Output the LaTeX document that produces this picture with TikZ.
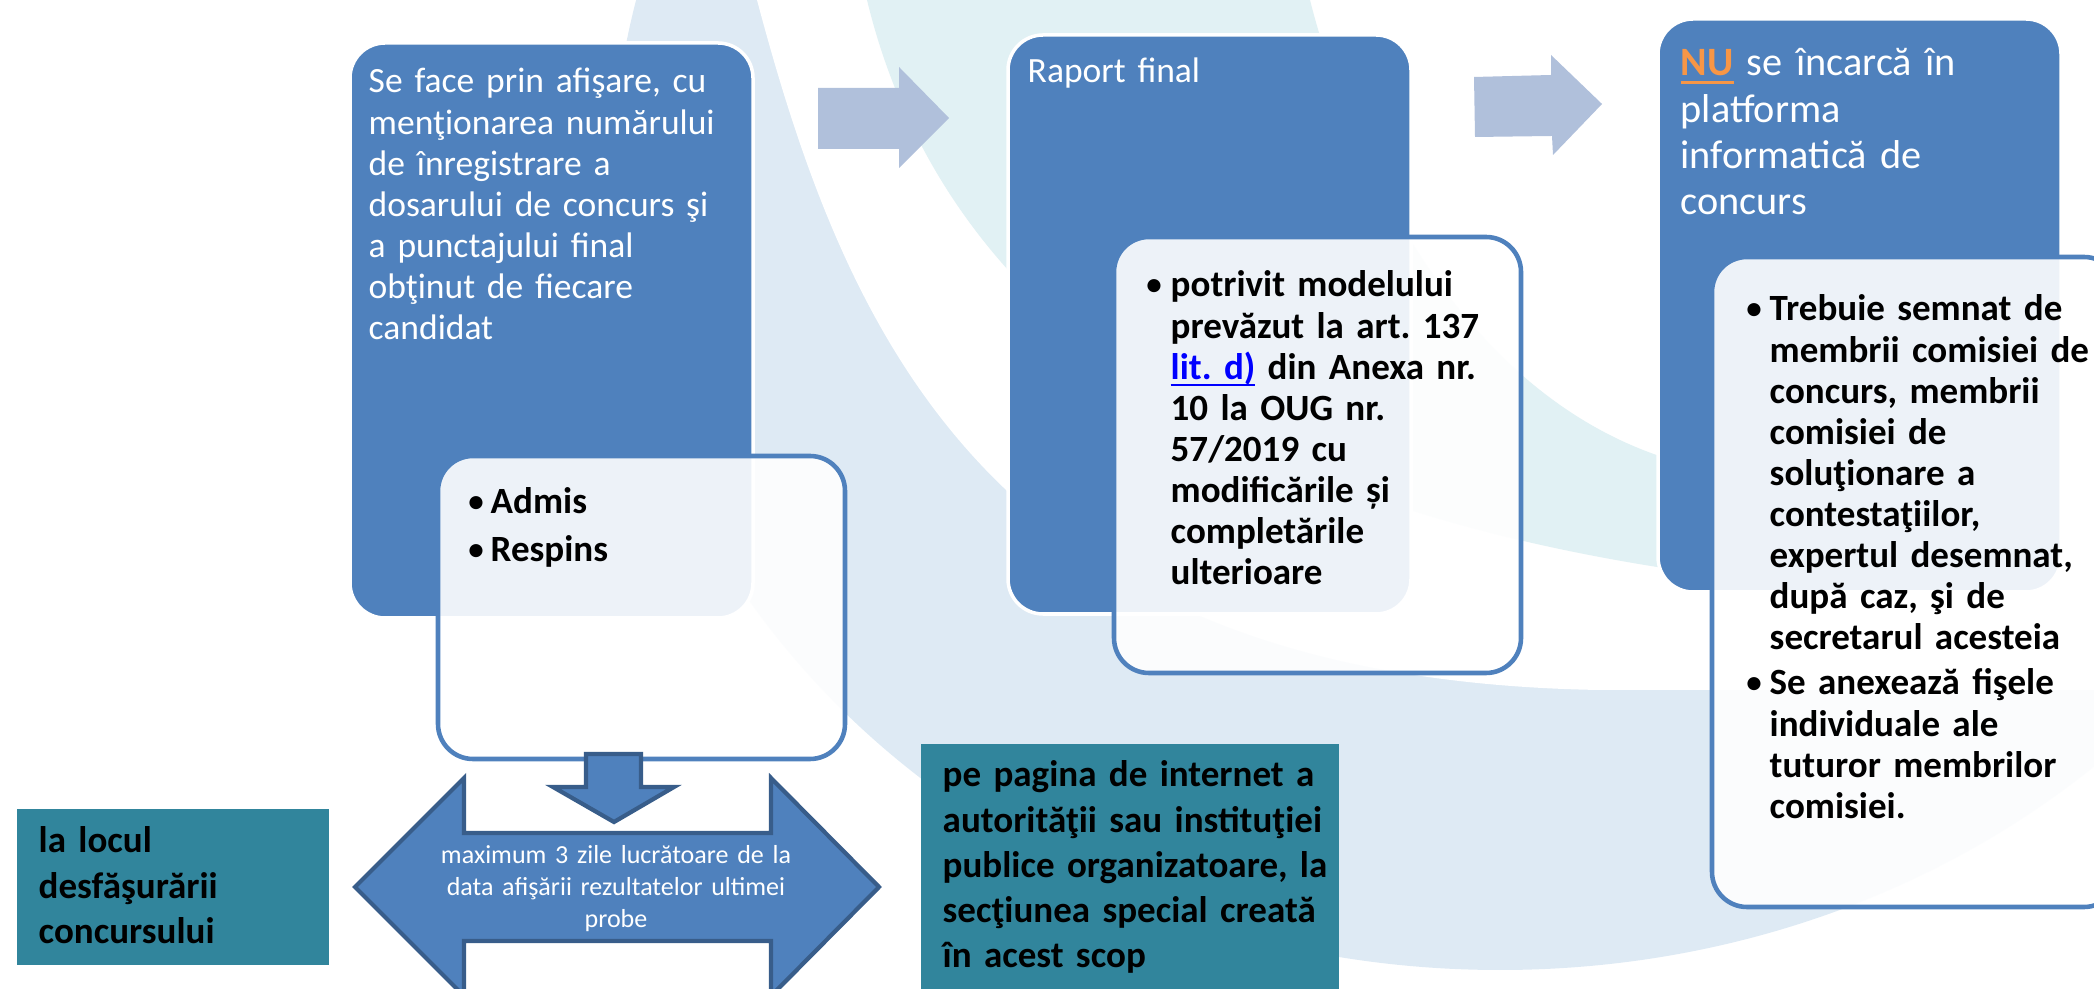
\documentclass[tikz,border=0pt]{standalone}
\usepackage{fontspec}
\setmainfont{Carlito}
\frenchspacing

\definecolor{boxblue}{RGB}{79,129,189}
\definecolor{edgeblue}{RGB}{56,93,138}
\definecolor{paleblue}{RGB}{176,192,219}
\definecolor{tealcol}{RGB}{49,133,156}
\definecolor{wmblue}{RGB}{222,234,244}
\definecolor{wmcyan}{RGB}{225,241,244}
\definecolor{nuorange}{RGB}{247,150,70}
\definecolor{linkblue}{RGB}{0,0,255}

\newcommand{\fntbody}{\fontsize{10.53pt}{11.67pt}\selectfont}
\newcommand{\fntplain}{\fontsize{10.1pt}{11.67pt}\selectfont}
\newcommand{\fnthead}{\fontsize{11.45pt}{13.09pt}\selectfont}
\newcommand{\fntteal}{\fontsize{10.53pt}{12.8pt}\selectfont\bfseries}
\newcommand{\fntsmall}{\fontsize{7.4pt}{9.02pt}\selectfont}
% underline with given depth and thickness
\newcommand{\barunder}[3]{\leavevmode\setbox0\hbox{#3}\rlap{\rule[-#1]{\wd0}{#2}}\box0}

\begin{document}
\begin{tikzpicture}[x=0.01cm, y=-0.01cm,
	bluebox/.style={fill=boxblue, draw=white, line width=1pt, rounded corners=0.35cm},
	subbox/.style={fill=white, fill opacity=0.9, draw=boxblue, line width=1.3pt, rounded corners=0.35cm},
	blockarrow/.style={fill=boxblue, draw=edgeblue, line width=1.2pt},
	bodytxt/.style={anchor=base west, inner sep=0, text width=5cm, align=left, font=\fntbody},
	dot/.style={anchor=base, inner sep=0, font=\fntbody}]

	\useasboundingbox (0,0) rectangle (2094,989);
	\clip (0,0) rectangle (2094,989);

	% faint logo behind
	\fill[wmblue] (1500,180) ellipse [x radius=887, y radius=790];
	\fill[white] (757,0) .. controls (850,350) and (1000,680) .. (1600,690) -- (2094,690) -- (2094,0) -- cycle;
	\fill[wmcyan] (867,0) .. controls (930,260) and (1150,500) .. (1712,575)
		-- (1712,470) .. controls (1450,420) and (1340,120) .. (1310,0) -- cycle;

	% arrows between steps
	\fill[paleblue] (818,88) -- (899,88) -- (899,67) -- (949,118) -- (899,168) -- (899,149) -- (818,149) -- cycle;
	\fill[paleblue] (1474,77) -- (1551,75) -- (1551,55) -- (1602,104) -- (1553,155) -- (1552,136) -- (1475,137) -- cycle;

	% boxes
	\draw[bluebox] (350,43) rectangle (753,618);
	\draw[subbox] (438,456) rectangle (845,759);
	\draw[bluebox] (1008,35) rectangle (1411,614);
	\draw[subbox] (1114,237) rectangle (1521,673);
	\draw[bluebox] (1658,19) rectangle (2061,592);
	\draw[subbox] (1712,257) rectangle (2119,907);

	\draw[blockarrow] (586,754) -- (641,754) -- (641,787) -- (674,787) -- (614,822) -- (553,787) -- (586,787) -- cycle;
	\draw[blockarrow] (355,887) -- (464,778) -- (464,833) -- (771,833) -- (771,778) -- (879,887)
		-- (771,996) -- (771,941) -- (464,941) -- (464,996) -- cycle;

	\fill[tealcol] (17,809) rectangle (329,965);
	\fill[tealcol] (921,744) rectangle (1339,1000);

	% texts
	\node[bodytxt, font=\fntplain, text=white] (afisare) at (368,93) {Se face prin afişare, cu\\menţionarea numărului\\de înregistrare a\\dosarului de concurs şi\\a punctajului final\\obţinut de fiecare\\candidat};
	\node[dot] (dotA) at (476,514) {\textbullet};
	\node[dot] (dotB) at (476,562) {\textbullet};
	\node[bodytxt, font=\fntbody\bfseries] (admis) at (490,514) {Admis\\[1.9pt]Respins};

	\node[bodytxt, font=\fntplain, text=white] (raport) at (1027,83) {Raport final};
	\node[dot] (dotC) at (1154,297) {\textbullet};
	\node[bodytxt, font=\fntbody\bfseries] (model) at (1170,297) {potrivit modelului\\prevăzut la art. 137\\\leavevmode{\color{linkblue}\barunder{1.9pt}{0.6pt}{lit. d)}} din Anexa nr.\\10 la OUG nr.\\57/2019 cu\\modificările și\\completările\\ulterioare};

	\node[bodytxt, font=\fnthead, text=white] (nu) at (1680,76) {{\color{nuorange}\bfseries\barunder{2.3pt}{0.9pt}{NU}} se încarcă în\\platforma\\informatică de\\concurs};
	\node[dot] (dotD) at (1754,321) {\textbullet};
	\node[bodytxt, font=\fntbody\bfseries] (semnat) at (1769,321) {Trebuie semnat de\\membrii comisiei de\\concurs, membrii\\comisiei de\\soluţionare a\\contestaţiilor,\\expertul desemnat,\\după caz, şi de\\secretarul acesteia};
	\node[dot] (dotE) at (1754,695) {\textbullet};
	\node[bodytxt, font=\fntbody\bfseries] (anexa) at (1769,695) {Se anexează fişele\\individuale ale\\tuturor membrilor\\comisiei.};

	\node[anchor=base, inner sep=0, text width=4cm, align=center, font=\fntsmall, text=white] (termen) at (616,864) {maximum 3 zile lucrătoare de la\\data afişării rezultatelor ultimei\\probe};

	\node[bodytxt, font=\fntteal] (locul) at (38,853) {la locul\\desfăşurării\\concursului};
	\node[bodytxt, font=\fntteal] (pagina) at (942,787) {pe pagina de internet a\\autorităţii sau instituţiei\\publice organizatoare, la\\secţiunea special creată\\în acest scop};

\end{tikzpicture}
\end{document}
